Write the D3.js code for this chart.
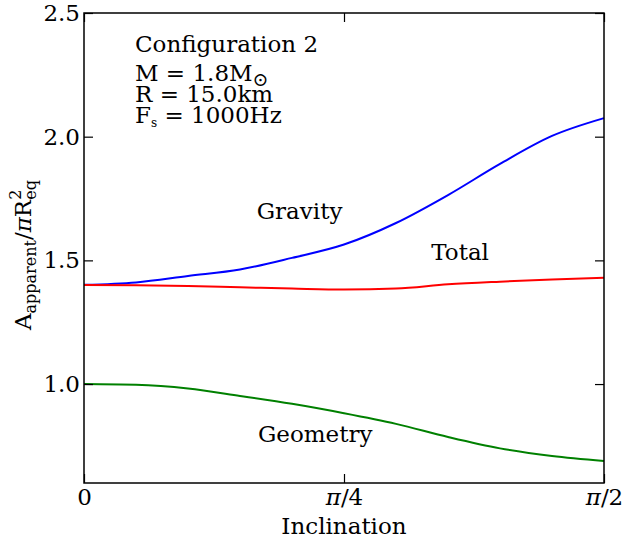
<!DOCTYPE html>
<html><head><meta charset="utf-8">
<script src="https://cdn.jsdelivr.net/npm/d3@7"></script>
<style>
body{margin:0;background:#fff}
svg text{font-family:"DejaVu Serif",serif;fill:#000}
</style>
</head><body>
<svg id="chart" width="624" height="539"></svg>
<script>
// Inclination in degrees (0 .. 90 = pi/2)
const inclinationDeg = [0, 9, 18, 27, 36, 45, 54, 63, 72, 81, 90];
const gravity  = [1.401, 1.411, 1.437, 1.463, 1.510, 1.564, 1.651, 1.764, 1.890, 2.003, 2.075];
const total    = [1.400, 1.399, 1.396, 1.391, 1.386, 1.382, 1.386, 1.403, 1.414, 1.423, 1.430];
const geometry = [1.000, 0.997, 0.982, 0.952, 0.920, 0.882, 0.839, 0.786, 0.740, 0.709, 0.689];
const yTicks = [1.0, 1.5, 2.0, 2.5];
const yTickLabels = ["1.0", "1.5", "2.0", "2.5"];
const xTicksDeg = [0, 45, 90];
const xTickLabels = ["0", "π/4", "π/2"];
const seriesNames = ["Gravity", "Total", "Geometry"];
const seriesColors = ["#0000ff", "#ff0000", "#008000"];
// annotation anchor positions (data coords: degrees, value)
const labelDeg = [29.9, 60.1, 30.1];
const labelVal = [1.667, 1.502, 0.767];
const infoLines = ["Configuration 2", "M = 1.8M", "R = 15.0km", "F = 1000Hz"];

const svg = d3.select("#chart");
const L = 84, R = 604, T = 13, B = 483;
const deg2rad = d => d * Math.PI / 180;
const x = d3.scaleLinear().domain([0, Math.PI / 2]).range([L, R]);
const y = d3.scaleLinear().domain([0.6, 2.5]).range([B, T]);
const FS = 23;

// lines
const allSeries = [gravity, total, geometry];
const line = d3.line().x((d, i) => x(deg2rad(inclinationDeg[i]))).y(d => y(d)).curve(d3.curveMonotoneX);
allSeries.forEach((s, k) => {
  svg.append("path").datum(s).attr("d", line).attr("fill", "none")
    .attr("stroke", seriesColors[k]).attr("stroke-width", 2);
});

// axes (inward ticks)
const tickLen = 9;
const xVals = xTicksDeg.map(deg2rad);
const fmtX = (d) => xTickLabels[xVals.indexOf(d)];
const fmtY = (d) => yTickLabels[yTicks.indexOf(d)];
function styleAxis(g){ g.select(".domain").remove(); g.selectAll("line").attr("stroke","#000").attr("stroke-width",1.2); g.selectAll("text").attr("font-size",FS).attr("font-family","DejaVu Serif"); }
svg.append("g").attr("transform",`translate(0,${B})`)
  .call(d3.axisBottom(x).tickValues(xVals).tickFormat(fmtX).tickSizeInner(-tickLen).tickSizeOuter(0).tickPadding(6))
  .call(styleAxis);
svg.append("g").attr("transform",`translate(0,${T})`)
  .call(d3.axisTop(x).tickValues(xVals).tickFormat("").tickSizeInner(-tickLen).tickSizeOuter(0))
  .call(styleAxis);
svg.append("g").attr("transform",`translate(${L},0)`)
  .call(d3.axisLeft(y).tickValues(yTicks).tickFormat(fmtY).tickSizeInner(-tickLen).tickSizeOuter(0).tickPadding(4))
  .call(styleAxis);
svg.append("g").attr("transform",`translate(${R},0)`)
  .call(d3.axisRight(y).tickValues(yTicks).tickFormat("").tickSizeInner(-tickLen).tickSizeOuter(0))
  .call(styleAxis);

// italic pi in x tick labels
svg.selectAll("g text").each(function(){
  const t = d3.select(this); const s = t.text();
  if (s.startsWith("π")) { t.text(""); t.append("tspan").attr("font-style","italic").text("π"); t.append("tspan").text(s.slice(1)); }
});

// frame
svg.append("rect").attr("x",L).attr("y",T).attr("width",R-L).attr("height",B-T)
  .attr("fill","none").attr("stroke","#000").attr("stroke-width",1.5);

// series annotations
seriesNames.forEach((n,k)=>{
  svg.append("text").attr("x", x(deg2rad(labelDeg[k]))).attr("y", y(labelVal[k]))
    .attr("font-size",FS).text(n);
});

// info box
const ix = 135;
svg.append("text").attr("x",ix).attr("y",52).attr("font-size",FS).text(infoLines[0]);
const m = svg.append("text").attr("x",ix).attr("y",81).attr("font-size",FS);
m.append("tspan").text(infoLines[1]);
m.append("tspan").attr("font-size",19).attr("dy",5).text("⊙");
svg.append("text").attr("x",ix).attr("y",102).attr("font-size",FS).text(infoLines[2]);
const f = svg.append("text").attr("x",ix).attr("y",123).attr("font-size",FS);
f.append("tspan").text(infoLines[3].slice(0,1));
f.append("tspan").attr("font-size",12).attr("dy",4).text("s");
f.append("tspan").attr("dy",-4).text(infoLines[3].slice(1));

// x label
svg.append("text").attr("x",(L+R)/2).attr("y",534).attr("text-anchor","middle").attr("font-size",FS).text("Inclination");

// y label
const yl = svg.append("text").attr("transform","translate(31,255) rotate(-90)").attr("text-anchor","middle").attr("font-size",FS);
yl.append("tspan").text("A");
yl.append("tspan").attr("font-size",16).attr("dy",5).text("apparent");
yl.append("tspan").attr("dy",-5).text("/");
yl.append("tspan").attr("font-style","italic").text("π");
yl.append("tspan").text("R");
yl.append("tspan").attr("font-size",16).attr("dy",-10).text("2");
yl.append("tspan").attr("font-size",16).attr("dy",15).attr("dx",-10).text("eq");
</script>
</body></html>
